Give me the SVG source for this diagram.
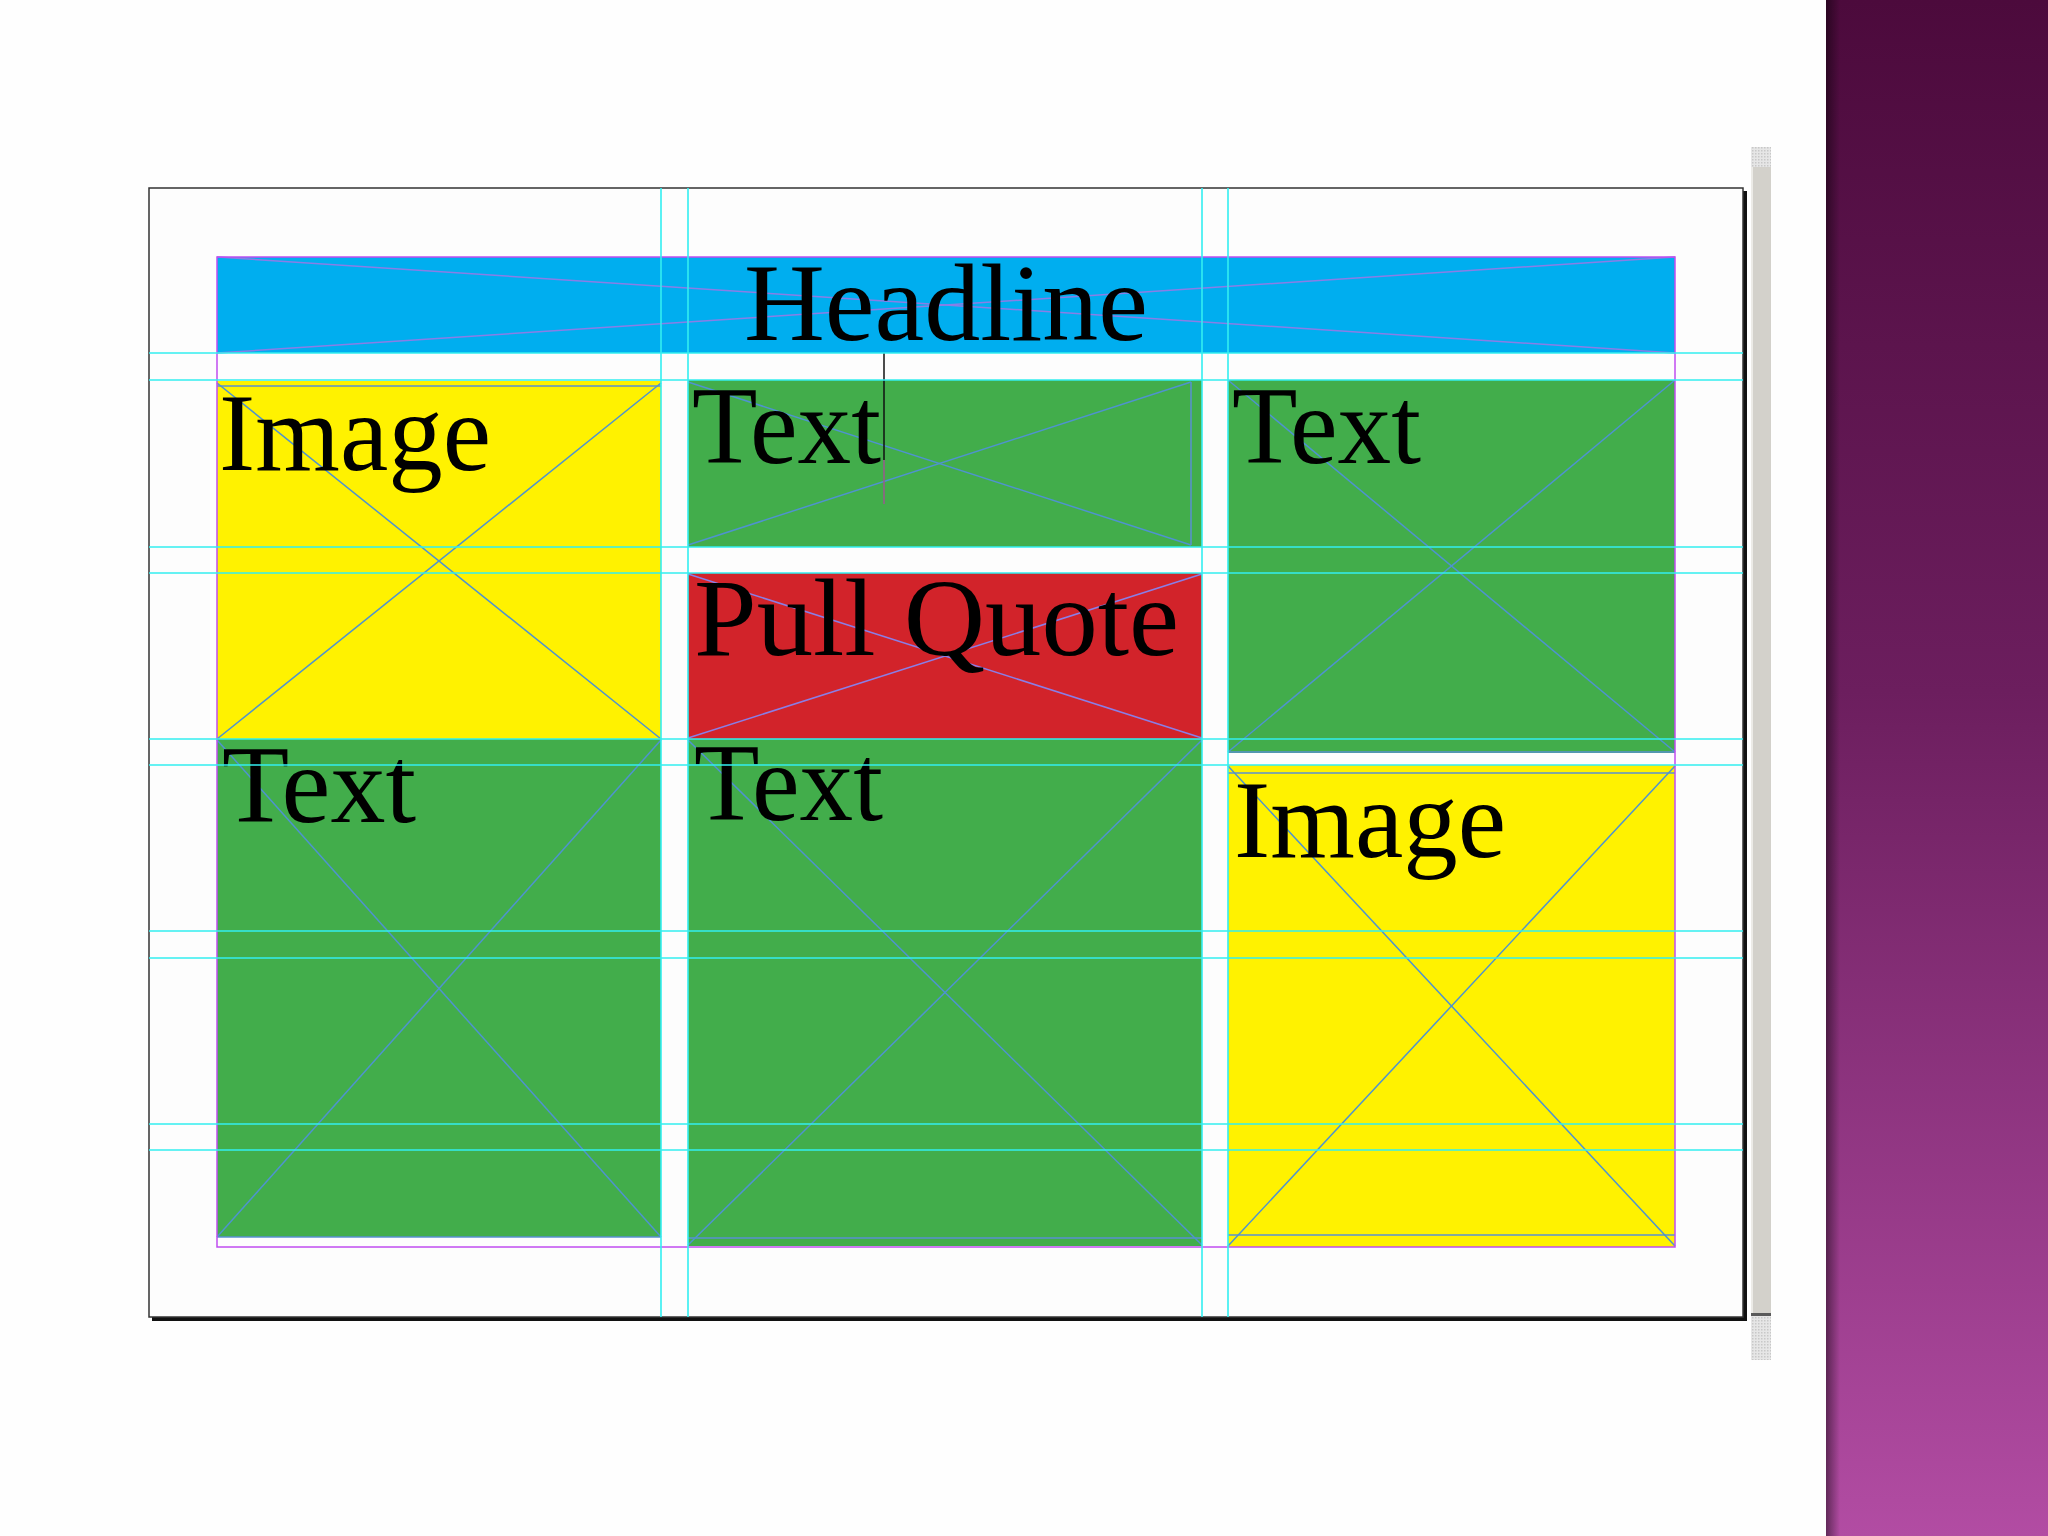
<svg xmlns="http://www.w3.org/2000/svg" width="2048" height="1536" viewBox="0 0 2048 1536">
  <defs>
    <linearGradient id="purple" x1="0" y1="0" x2="0" y2="1">
      <stop offset="0" stop-color="#4c0a3c"/>
      <stop offset="0.45" stop-color="#6c1e5e"/>
      <stop offset="1" stop-color="#b24ca3"/>
    </linearGradient>
    <linearGradient id="edge" x1="0" y1="0" x2="1" y2="0">
      <stop offset="0" stop-color="#000" stop-opacity="0.45"/>
      <stop offset="1" stop-color="#000" stop-opacity="0"/>
    </linearGradient>
    <pattern id="dots" width="3" height="3" patternUnits="userSpaceOnUse">
      <rect width="3" height="3" fill="#e6e6e6"/>
      <rect width="1.5" height="1.5" fill="#c8c8c8"/>
    </pattern>
  </defs>
  <style>
    .lbl { font-family: "Liberation Serif", "Times New Roman", serif; font-size: 110px; fill: #000; }
    .x { stroke: #4f93cf; stroke-width: 1.5; fill: none; }
    .xv { stroke: #8a7ee6; stroke-width: 1.5; fill: none; }
    .guide { stroke: #33eef0; stroke-width: 1.6; fill: none; }
    .frame { stroke: #5a90d0; stroke-width: 1.5; fill: none; }
  </style>
  <rect width="2048" height="1536" fill="#fefefe"/>

  <!-- right purple panel -->
  <g id="side-panel">
    <rect x="1826" y="0" width="222" height="1536" fill="url(#purple)"/>
    <rect x="1826" y="0" width="14" height="1536" fill="url(#edge)"/>
  </g>

  <!-- scrollbar -->
  <g id="scrollbar">
    <rect x="1751" y="147" width="20" height="20" fill="url(#dots)"/>
    <rect x="1751" y="167" width="20" height="1146" fill="#d3d1cb"/>
    <rect x="1751" y="167" width="2" height="1146" fill="#ecebe7"/>
    <rect x="1751" y="1313" width="20" height="3" fill="#5a5a5a"/>
    <rect x="1751" y="1316" width="20" height="44" fill="url(#dots)"/>
  </g>

  <!-- page -->
  <g id="page">
    <rect x="152" y="191" width="1595" height="1130" fill="#111"/>
    <rect x="149" y="188" width="1594" height="1129" fill="#fdfdfd" stroke="#333" stroke-width="1.5"/>
  </g>

  <!-- headline -->
  <g id="headline">
    <rect x="217" y="257" width="1458" height="96" fill="#00aeef"/>
    <line class="xv" x1="217" y1="257" x2="1675" y2="353"/>
    <line class="xv" x1="217" y1="353" x2="1675" y2="257"/>
    <text class="lbl" x="946" y="340" text-anchor="middle" textLength="404" lengthAdjust="spacingAndGlyphs">Headline</text>
  </g>

  <!-- image left -->
  <g id="image-left">
    <rect x="217" y="381" width="444" height="358" fill="#fff200"/>
    <line class="frame" x1="217" y1="386" x2="661" y2="386"/>
    <line class="x" x1="217" y1="383" x2="661" y2="739"/>
    <line class="x" x1="661" y1="383" x2="217" y2="739"/>
    <text class="lbl" x="219" y="470" textLength="272" lengthAdjust="spacingAndGlyphs">Image</text>
  </g>

  <!-- text top middle -->
  <g id="text-top-middle">
    <rect x="688" y="380" width="514" height="167" fill="#42ad4b"/>
    <line class="frame" x1="1191" y1="382" x2="1191" y2="545"/>
    <line class="x" x1="688" y1="382" x2="1191" y2="545"/>
    <line class="x" x1="1191" y1="382" x2="688" y2="545"/>
    <text class="lbl" x="692" y="463" textLength="189" lengthAdjust="spacingAndGlyphs">Text</text>
    <line x1="884" y1="353" x2="884" y2="460" stroke="#111" stroke-width="1.5"/>
    <line x1="884" y1="460" x2="884" y2="504" stroke="#9a5a8e" stroke-width="1.5"/>
  </g>

  <!-- text top right -->
  <g id="text-top-right">
    <rect x="1228" y="380" width="447" height="373" fill="#42ad4b"/>
    <line class="frame" x1="1228" y1="752" x2="1675" y2="752"/>
    <line class="x" x1="1228" y1="380" x2="1675" y2="752"/>
    <line class="x" x1="1675" y1="380" x2="1228" y2="752"/>
    <text class="lbl" x="1232" y="463" textLength="189" lengthAdjust="spacingAndGlyphs">Text</text>
  </g>

  <!-- pull quote -->
  <g id="pull-quote">
    <rect x="688" y="573" width="514" height="166" fill="#d2232a"/>
    <line class="xv" x1="688" y1="574" x2="1202" y2="738"/>
    <line class="xv" x1="1202" y1="574" x2="688" y2="738"/>
    <text class="lbl" x="694" y="655" textLength="485" lengthAdjust="spacingAndGlyphs">Pull Quote</text>
  </g>

  <!-- text bottom left -->
  <g id="text-bottom-left">
    <rect x="217" y="739" width="444" height="498" fill="#42ad4b"/>
    <line class="frame" x1="217" y1="1237" x2="661" y2="1237"/>
    <line class="x" x1="217" y1="740" x2="661" y2="1237"/>
    <line class="x" x1="661" y1="740" x2="217" y2="1237"/>
    <text class="lbl" x="222" y="822" textLength="194" lengthAdjust="spacingAndGlyphs">Text</text>
  </g>

  <!-- text bottom middle -->
  <g id="text-bottom-middle">
    <rect x="688" y="739" width="514" height="507" fill="#42ad4b"/>
    <line class="frame" x1="688" y1="1238" x2="1202" y2="1238"/>
    <line class="x" x1="688" y1="740" x2="1202" y2="1245"/>
    <line class="x" x1="1202" y1="740" x2="688" y2="1245"/>
    <text class="lbl" x="694" y="820" textLength="189" lengthAdjust="spacingAndGlyphs">Text</text>
  </g>

  <!-- image bottom right -->
  <g id="image-bottom-right">
    <rect x="1228" y="765" width="447" height="482" fill="#fff200"/>
    <line class="frame" x1="1228" y1="773" x2="1675" y2="773"/>
    <line class="frame" x1="1228" y1="1235" x2="1675" y2="1235"/>
    <line class="x" x1="1228" y1="766" x2="1675" y2="1246"/>
    <line class="x" x1="1675" y1="766" x2="1228" y2="1246"/>
    <text class="lbl" x="1234" y="857" textLength="272" lengthAdjust="spacingAndGlyphs">Image</text>
  </g>

  <!-- margins -->
  <g id="margins">
    <rect x="217" y="257" width="1458" height="990" fill="none" stroke="#c04cf0" stroke-width="1.5"/>
  </g>

  <!-- guides -->
  <g id="guides">
    <path class="guide" d="M149 353H1743M149 380H1743M149 547H1743M149 573H1743M149 739H1743M149 765H1743M149 931H1743M149 958H1743M149 1124H1743M149 1150H1743"/>
    <path class="guide" d="M661 188V1317M688 188V1317M1202 188V1317M1228 188V1317"/>
  </g>
</svg>
